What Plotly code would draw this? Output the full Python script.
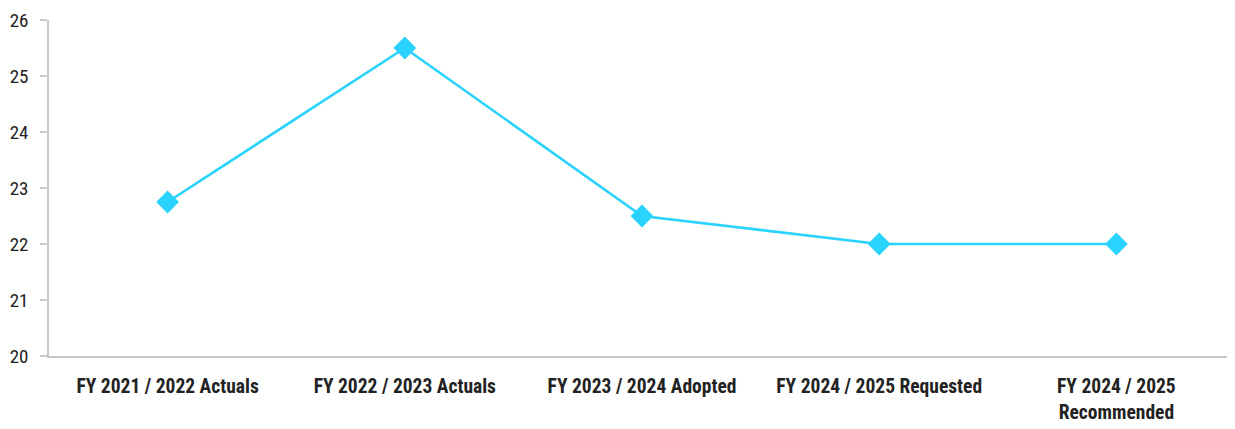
import plotly.graph_objects as go

categories = ["FY 2021 / 2022 Actuals", "FY 2022 / 2023 Actuals", "FY 2023 / 2024 Adopted",
              "FY 2024 / 2025 Requested", "FY 2024 / 2025<br>Recommended"]
values = [22.75, 25.5, 22.5, 22.0, 22.0]
y_ticks = [20, 21, 22, 23, 24, 25, 26]

FONT = "Liberation Sans Narrow, Roboto Condensed, Roboto, DejaVu Sans Condensed, sans-serif"

fig = go.Figure()
fig.add_trace(go.Scatter(
    x=categories, y=values, mode="lines+markers",
    line=dict(color="#29D3FD", width=2.6),
    marker=dict(symbol="diamond", size=17.5, color="#29D3FD"),
    showlegend=False, cliponaxis=False,
))
# page body has an 8px margin, so the figure is shrunk/offset to land where the reference is
fig.update_layout(
    width=1227, height=421,
    margin=dict(l=41, r=0, t=12, b=73),
    paper_bgcolor="white", plot_bgcolor="white",
    font=dict(family=FONT, size=19, color="#222222"),
)
fig.update_xaxes(
    type="category", range=[-0.5, 4.5],
    showline=True, linecolor="#C8C8C8", linewidth=1.5,
    showgrid=False, ticks="", zeroline=False, ticklabelstandoff=12,
    tickfont=dict(family=FONT, size=19.5, color="#222222", weight="bold"),
)
fig.update_yaxes(
    range=[20, 26], tickvals=y_ticks,
    showline=True, linecolor="#C8C8C8", linewidth=1.5,
    showgrid=False, ticks="outside", ticklen=7, tickcolor="#C8C8C8", tickwidth=1.5,
    zeroline=False, ticklabelstandoff=8, automargin=False,
    ticklabeloverflow="allow",
    tickfont=dict(family=FONT, size=19, color="#222222"),
)
fig.write_html("out.html")
